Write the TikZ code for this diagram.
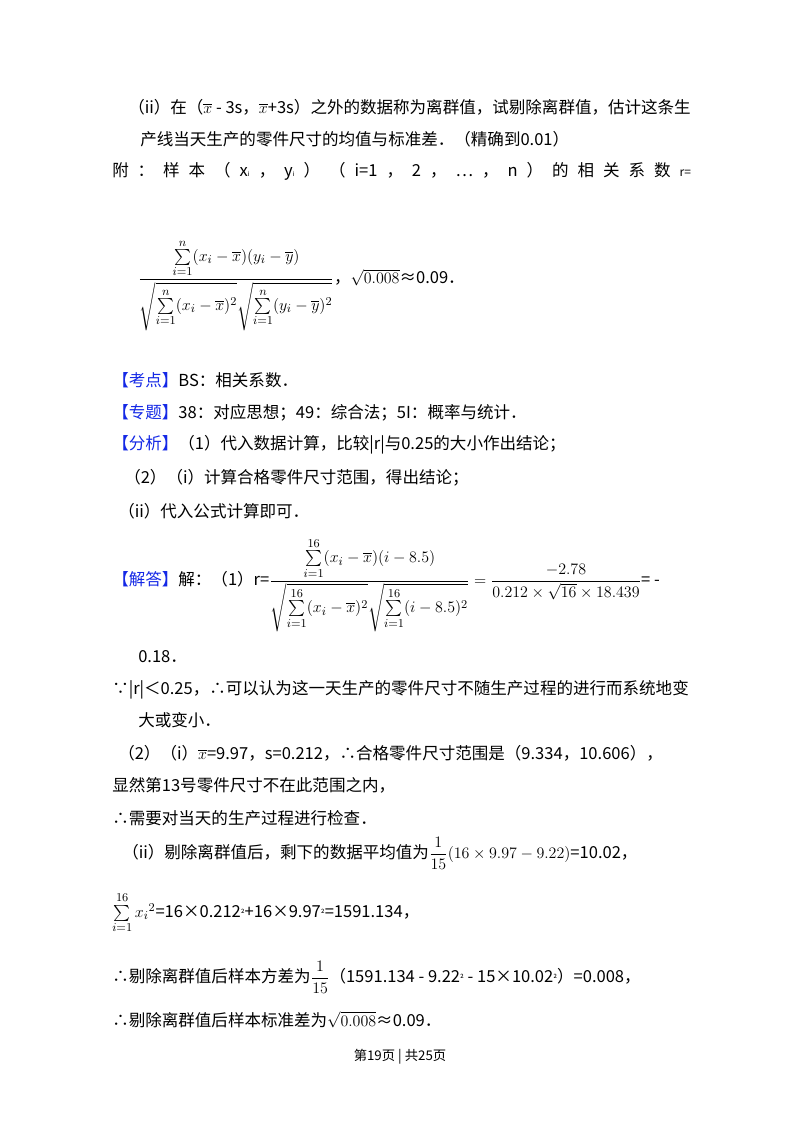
\documentclass[tikz,border=0pt]{standalone}
\usepackage{amsmath}
\usepackage{fontspec}
\setmainfont{Noto Sans CJK SC}
\definecolor{kblue}{RGB}{20,40,230}
\begin{document}
\begin{tikzpicture}[x=0.75pt,y=-0.75pt,
  ln/.style={anchor=west,inner sep=0pt,font=\fontsize{12.4}{14}\selectfont},
  bl/.style={text=kblue}]
\useasboundingbox[fill=white] (0,0) rectangle (800,1132);
\node[ln] (l1) at (128,107) {（ii）在（$\overline{x}$ - 3s，$\overline{x}$+3s）之外的数据称为离群值，试剔除离群值，估计这条生};
\node[ln] (l2) at (140,139) {产线当天生产的零件尺寸的均值与标准差．（精确到0.01）};
\node[ln] (l3) at (112,171) {\makebox[434pt][s]{附\hfill：\hfill 样\hfill 本\hfill （\hfill x{\tiny i}\hfill ，\hfill y{\tiny i}\hfill ）\hfill （\hfill i=1\hfill ，\hfill 2\hfill ，\hfill …\hfill ，\hfill n\hfill ）\hfill 的\hfill 相\hfill 关\hfill 系\hfill 数\hfill {\small r=}}};
\node[ln] (f1) at (138,285) {$\dfrac{\sum\limits_{i=1}^{n}(x_i-\overline{x})(y_i-\overline{y})}{\sqrt{\sum\limits_{i=1}^{n}(x_i-\overline{x})^2}\sqrt{\sum\limits_{i=1}^{n}(y_i-\overline{y})^2}}$，$\sqrt{0.008}$≈0.09．};
\node[ln] (k1) at (112,380) {\textcolor{kblue}{【考点】}BS：相关系数．};
\node[ln] (k2) at (112,413) {\textcolor{kblue}{【专题】}38：对应思想；49：综合法；5I：概率与统计．};
\node[ln] (k3) at (112,445) {\textcolor{kblue}{【分析】}（1）代入数据计算，比较|r|与0.25的大小作出结论；};
\node[ln] (k4) at (124,478) {（2）（i）计算合格零件尺寸范围，得出结论；};
\node[ln] (k5) at (118,511) {（ii）代入公式计算即可．};
\node[ln] (s1) at (112,585) {\textcolor{kblue}{【解答】}解：（1）r=$\dfrac{\sum\limits_{i=1}^{16}(x_i-\overline{x})(i-8.5)}{\sqrt{\sum\limits_{i=1}^{16}(x_i-\overline{x})^2}\sqrt{\sum\limits_{i=1}^{16}(i-8.5)^2}}=\dfrac{-2.78}{0.212\times\sqrt{16}\times18.439}$= -};
\node[ln] (s2) at (138,657) {0.18．};
\node[ln] (s3) at (112,690) {∵|r|＜0.25，∴可以认为这一天生产的零件尺寸不随生产过程的进行而系统地变};
\node[ln] (s4) at (138,720) {大或变小．};
\node[ln] (s5) at (118,753) {（2）（i）$\overline{x}$=9.97，s=0.212，∴合格零件尺寸范围是（9.334，10.606），};
\node[ln] (s6) at (112,785) {显然第13号零件尺寸不在此范围之内，};
\node[ln] (s7) at (112,818) {∴需要对当天的生产过程进行检查．};
\node[ln] (s8) at (122,853) {（ii）剔除离群值后，剩下的数据平均值为$\dfrac{1}{15}(16\times9.97-9.22)$=10.02，};
\node[ln] (s9) at (112,913) {$\sum\limits_{i=1}^{16}x_i{}^2$=16×0.212{\scriptsize ²}+16×9.97{\scriptsize ²}=1591.134，};
\node[ln] (s10) at (112,977) {∴剔除离群值后样本方差为$\dfrac{1}{15}$（1591.134 - 9.22{\scriptsize ²} - 15×10.02{\scriptsize ²}）=0.008，};
\node[ln] (s11) at (112,1020) {∴剔除离群值后样本标准差为$\sqrt{0.008}$≈0.09．};
\node[inner sep=0pt,font=\fontsize{10}{12}\selectfont] (pg) at (400,1057) {第19页 | 共25页};
\end{tikzpicture}
\end{document}
